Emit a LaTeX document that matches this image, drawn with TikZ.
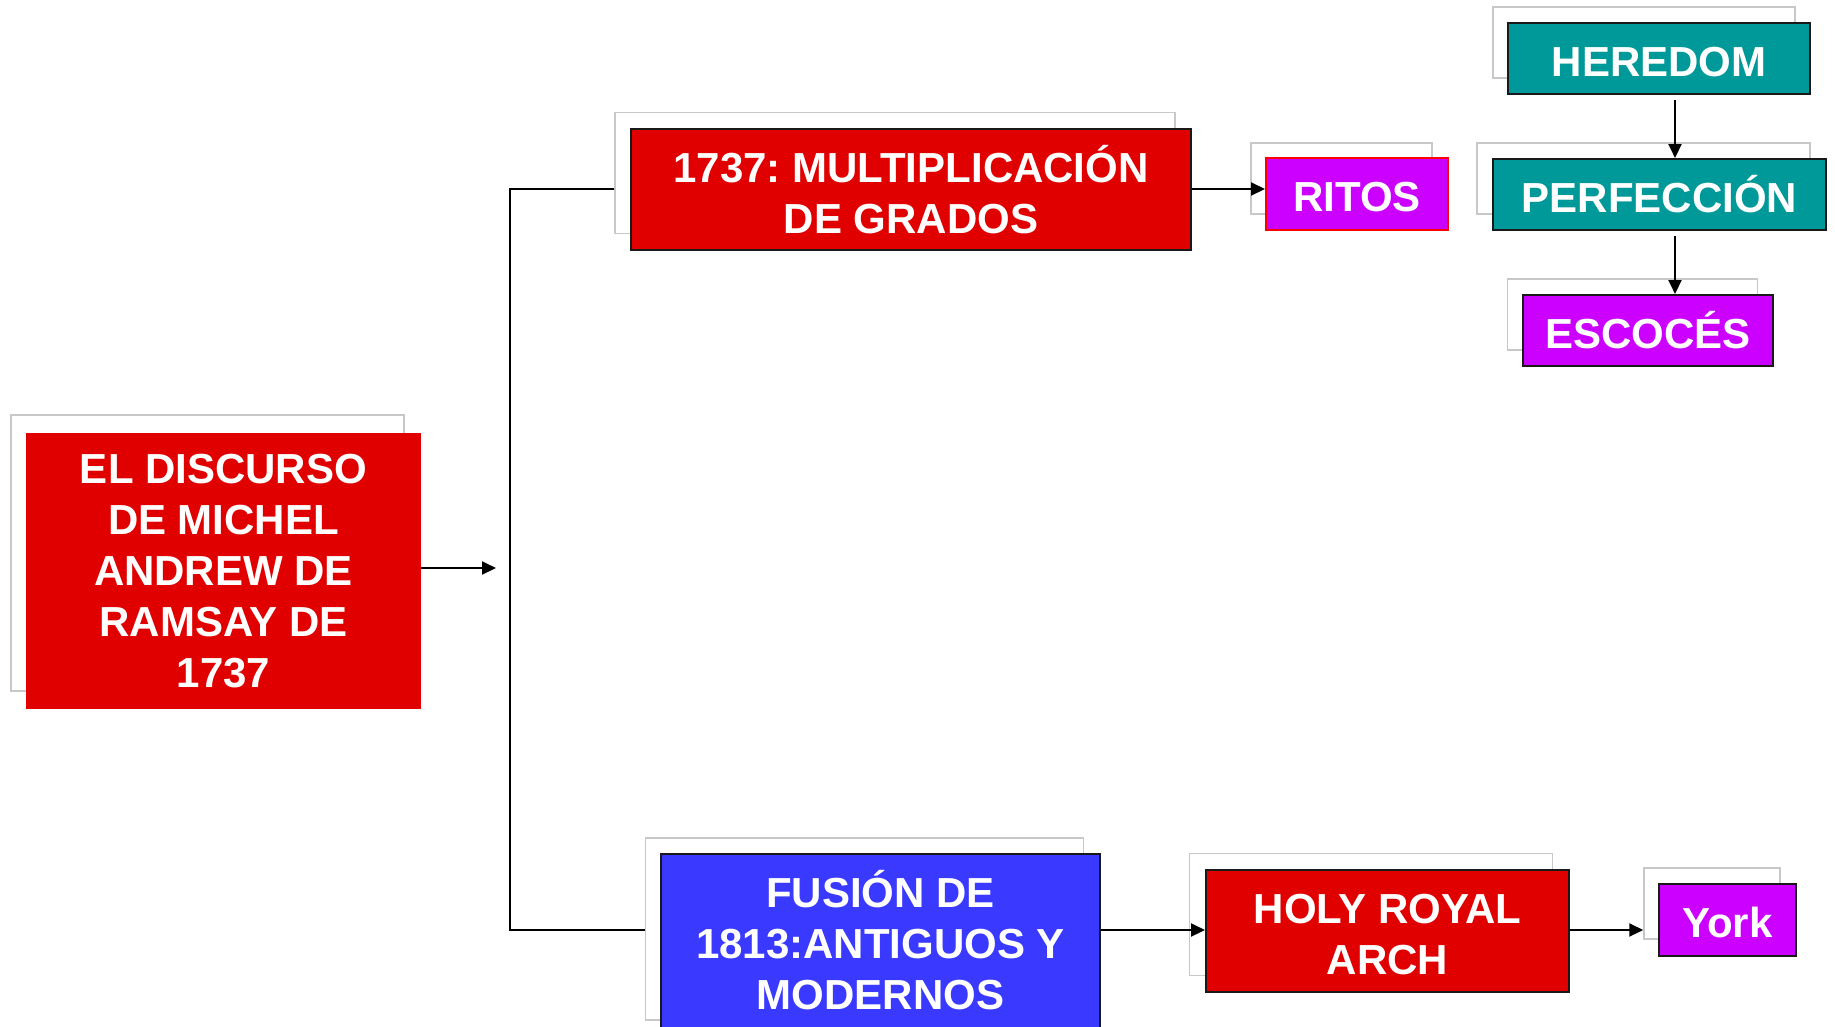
\documentclass[tikz,border=0pt]{standalone}
\usepackage{fontspec}
\setmainfont{Liberation Sans}
\usetikzlibrary{arrows.meta}
\frenchspacing
\definecolor{bred}{RGB}{224,0,0}
\definecolor{bmag}{RGB}{204,0,255}
\definecolor{bteal}{RGB}{0,153,153}
\definecolor{bblue}{RGB}{57,57,255}
\definecolor{shgray}{RGB}{200,200,200}
\definecolor{bdark}{RGB}{25,25,25}
\tikzset{
  shbox/.style={draw=shgray, fill=white, line width=1.5pt, inner sep=0pt},
  mainbox/.style={inner sep=0pt, text=white, align=center,
    font=\fontsize{42}{51}\selectfont\bfseries\frenchspacing},
  oneline/.style={text height=35pt, text depth=0pt},
  edged/.style={draw=bdark, line width=2pt},
  conn/.style={draw=black, line width=2pt},
  arr/.style={conn, -{Triangle[length=14pt,width=13pt]}},
}
\begin{document}
\begin{tikzpicture}[x=1pt,y=-1pt]
\useasboundingbox (0,0) rectangle (1835,1026);
\fill[white] (0,0) rectangle (1835,1026);
\clip (0,0) rectangle (1835,1026);

% shadows
\node[shbox, minimum width=393pt, minimum height=276pt] (mains) at (207.5,553) {};
\node[shbox, minimum width=560pt, minimum height=121pt] (g1737s) at (895,173) {};
\node[shbox, minimum width=181pt, minimum height=71pt] (ritoss) at (1341.5,178.5) {};
\node[shbox, minimum width=302pt, minimum height=71pt] (heredoms) at (1644,42.5) {};
\node[shbox, minimum width=333pt, minimum height=71pt] (perfs) at (1643.5,178.5) {};
\node[shbox, minimum width=250pt, minimum height=71pt] (escocess) at (1632.5,314.5) {};
\node[shbox, minimum width=438pt, minimum height=182pt] (fusions) at (864.5,929) {};
\node[shbox, minimum width=363pt, minimum height=122pt] (holys) at (1371,914.5) {};
\node[shbox, minimum width=136pt, minimum height=71pt] (yorks) at (1712,903.5) {};

% main boxes
\node[mainbox, fill=bred, minimum width=395pt, minimum height=276pt] (main) at (223.5,571)
  {EL DISCURSO\\DE MICHEL\\ANDREW DE\\RAMSAY DE\\1737};
\node[mainbox, edged, fill=bred, minimum width=560pt, minimum height=121pt] (g1737) at (911,189.5)
  {1737: MULTIPLICACIÓN\\DE GRADOS};
\node[mainbox, oneline, draw=red, line width=2pt, fill=bmag, minimum width=182pt, minimum height=72pt] (ritos) at (1357,194)
  {RITOS};
\node[mainbox, oneline, edged, fill=bteal, minimum width=302pt, minimum height=71pt] (heredom) at (1659,58.5)
  {HEREDOM};
\node[mainbox, oneline, edged, fill=bteal, minimum width=333pt, minimum height=71pt] (perf) at (1659.5,194.5)
  {PERFECCIÓN};
\node[mainbox, oneline, edged, fill=bmag, minimum width=250pt, minimum height=71pt] (escoces) at (1648,330.5)
  {ESCOCÉS};
\node[mainbox, edged, fill=bblue, minimum width=439pt, minimum height=190pt] (fusion) at (880.5,949) {};
\node[mainbox] (fusiontxt) at ([yshift=9pt]fusion.center)
  {FUSIÓN DE\\1813:ANTIGUOS Y\\MODERNOS};
\node[mainbox, edged, fill=bred, minimum width=363pt, minimum height=122pt] (holy) at (1387.5,931) {};
\node[mainbox] (holytxt) at ([yshift=-3.5pt]holy.center)
  {HOLY ROYAL\\ARCH};
\node[mainbox, oneline, edged, fill=bmag, minimum width=137pt, minimum height=72pt] (york) at (1727.5,920)
  {York};

% junction coordinates
\coordinate (jt) at (510,189);
\coordinate (jb) at (510,930);
\coordinate (ax) at (1675,0);

% connectors
\draw[arr, shorten >=14pt] (main.east |- 0,568) -- (jt |- 0,568);
\draw[conn] (g1737s.west |- jt) -- (jt) -- (jb) -- (jb -| fusions.west);
\draw[arr] (g1737.east |- jt) -- (jt -| ritos.west);
\draw[arr] (fusion.east |- jb) -- (jb -| holy.west);
\draw[arr] (holy.east |- jb) -- (jb -| yorks.west);
\draw[arr, shorten <=5pt] (heredom.south -| ax) -- (perf.north -| ax);
\draw[arr, shorten <=5pt] (perf.south -| ax) -- (escoces.north -| ax);
\end{tikzpicture}
\end{document}
